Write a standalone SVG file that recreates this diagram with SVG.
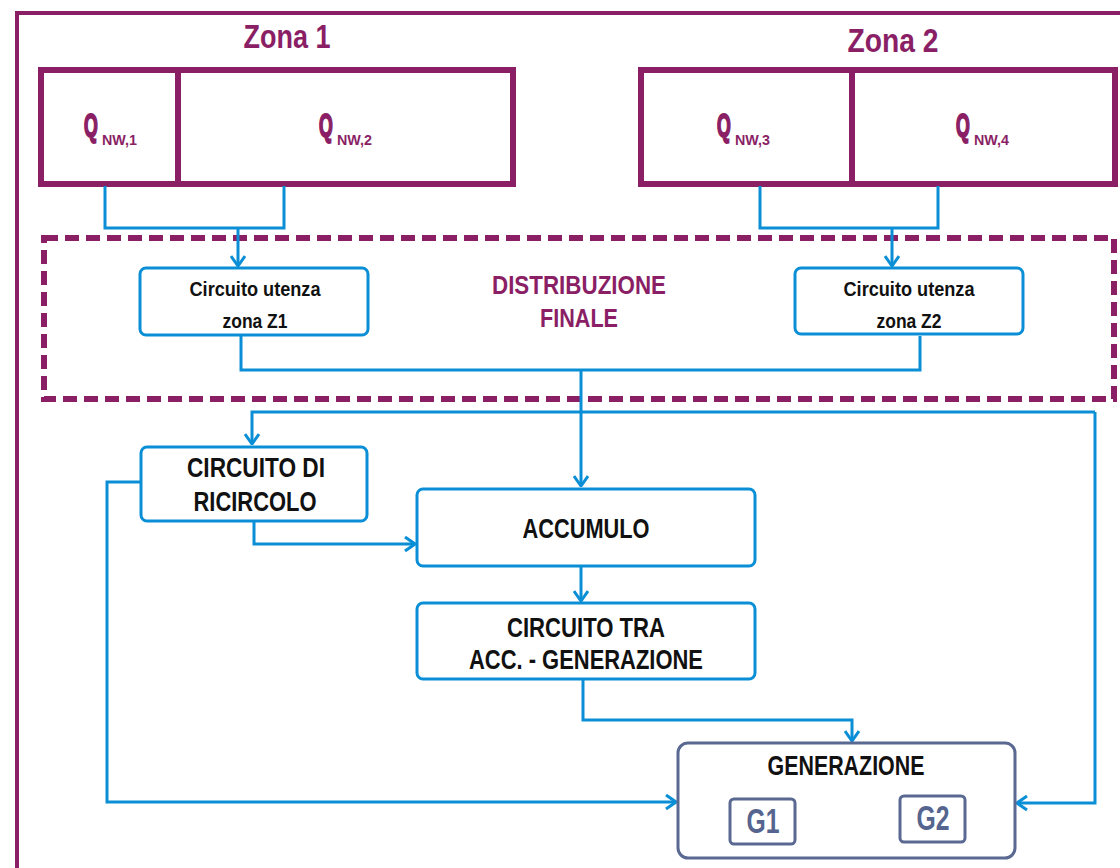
<svg xmlns="http://www.w3.org/2000/svg" width="1120" height="868" viewBox="0 0 1120 868">
<defs>
<style>
.t{font-family:"Liberation Sans Narrow","Liberation Sans",Arial,sans-serif;font-weight:bold;text-anchor:middle}
.s{font-family:"Liberation Sans Narrow","Liberation Sans",Arial,sans-serif;font-weight:bold;fill:#8a1f66}
.q{font-size:31px;stroke:#8a1f66;stroke-width:2}
.sub{font-size:15px}
.pu{fill:#8a1f66}
.bk{fill:#111}
.sl{fill:#56658f}
.zone{fill:none;stroke:#8a1f66;stroke-width:6}
.node{fill:#fff;stroke:#0a8fd6;stroke-width:3}
.gen{fill:#fff;stroke:#5a6992;stroke-width:3}
.c{fill:none;stroke:#0a8fd6;stroke-width:3;stroke-linejoin:miter}
.ae{marker-end:url(#ar)}
</style>
<marker id="ar" viewBox="0 0 12 16" refX="11" refY="8" markerWidth="12" markerHeight="16" markerUnits="userSpaceOnUse" orient="auto-start-reverse">
<path d="M1,1 L11,8 L1,15" fill="none" stroke="#0a8fd6" stroke-width="3"/>
</marker>
</defs>
<rect width="1120" height="868" fill="#fff"/>
<rect id="frame" x="17" y="13" width="1120" height="880" fill="none" stroke="#8a1f66" stroke-width="4"/>

<g id="zona1">
<text class="t pu" x="287" y="48" font-size="34" textLength="87" lengthAdjust="spacingAndGlyphs">Zona 1</text>
<rect class="zone" x="41" y="70" width="472" height="114"/>
<line x1="178" y1="70" x2="178" y2="184" stroke="#8a1f66" stroke-width="6"/>
<text class="s q" transform="translate(84,136) scale(0.57,1)">Q</text>
<text class="s sub" x="102" y="145" textLength="35" lengthAdjust="spacingAndGlyphs">NW,1</text>
<text class="s q" transform="translate(319,136) scale(0.57,1)">Q</text>
<text class="s sub" x="337" y="145" textLength="35" lengthAdjust="spacingAndGlyphs">NW,2</text>
</g>

<g id="zona2">
<text class="t pu" x="893" y="52" font-size="34" textLength="91" lengthAdjust="spacingAndGlyphs">Zona 2</text>
<rect class="zone" x="641" y="70" width="474" height="114"/>
<line x1="852" y1="70" x2="852" y2="184" stroke="#8a1f66" stroke-width="6"/>
<text class="s q" transform="translate(717,136) scale(0.57,1)">Q</text>
<text class="s sub" x="735" y="145" textLength="35" lengthAdjust="spacingAndGlyphs">NW,3</text>
<text class="s q" transform="translate(956,136) scale(0.57,1)">Q</text>
<text class="s sub" x="974" y="145" textLength="35" lengthAdjust="spacingAndGlyphs">NW,4</text>
</g>

<g id="distribuzione">
<rect x="44" y="238" width="1070" height="161" fill="none" stroke="#8a1f66" stroke-width="6" stroke-dasharray="14,7"/>
<text class="t pu" x="579" y="294" font-size="25" textLength="174" lengthAdjust="spacingAndGlyphs">DISTRIBUZIONE</text>
<text class="t pu" x="579" y="327" font-size="25" textLength="78" lengthAdjust="spacingAndGlyphs">FINALE</text>
</g>

<g id="connectors">
<path class="c" d="M105,186 V228 H284 V186"/>
<path class="c ae" d="M238,228 V266"/>
<path class="c" d="M760,186 V228 H938 V186"/>
<path class="c ae" d="M892,228 V266"/>
<path class="c" d="M241,336 V370 H920 V336"/>
<path class="c ae" d="M581,370 V486"/>
<path class="c ae" d="M1095,412 H252 V444"/>
<path class="c ae" d="M1095,412 V803 H1017"/>
<path class="c ae" d="M140,482 H107 V802 H676"/>
<path class="c ae" d="M254,522 V544 H415"/>
<path class="c ae" d="M581,567 V601"/>
<path class="c ae" d="M583,680 V720 H852 V741"/>
</g>

<g id="utenza1">
<rect class="node" x="140" y="268" width="228" height="67" rx="6"/>
<text class="t bk" x="255" y="296" font-size="20" textLength="131" lengthAdjust="spacingAndGlyphs">Circuito utenza</text>
<text class="t bk" x="255" y="328" font-size="20" textLength="65" lengthAdjust="spacingAndGlyphs">zona Z1</text>
</g>

<g id="utenza2">
<rect class="node" x="795" y="268" width="228" height="66" rx="6"/>
<text class="t bk" x="909" y="296" font-size="20" textLength="131" lengthAdjust="spacingAndGlyphs">Circuito utenza</text>
<text class="t bk" x="909" y="328" font-size="20" textLength="65" lengthAdjust="spacingAndGlyphs">zona Z2</text>
</g>

<g id="ricircolo">
<rect class="node" x="141" y="447" width="226" height="74" rx="6"/>
<text class="t bk" x="256" y="477" font-size="27" textLength="138" lengthAdjust="spacingAndGlyphs">CIRCUITO DI</text>
<text class="t bk" x="255" y="511" font-size="27" textLength="123" lengthAdjust="spacingAndGlyphs">RICIRCOLO</text>
</g>

<g id="accumulo">
<rect class="node" x="417" y="489" width="338" height="77" rx="6"/>
<text class="t bk" x="586" y="538" font-size="27" textLength="127" lengthAdjust="spacingAndGlyphs">ACCUMULO</text>
</g>

<g id="circuito-tra">
<rect class="node" x="417" y="603" width="338" height="76" rx="6"/>
<text class="t bk" x="586" y="637" font-size="27" textLength="158" lengthAdjust="spacingAndGlyphs">CIRCUITO TRA</text>
<text class="t bk" x="586" y="669" font-size="27" textLength="234" lengthAdjust="spacingAndGlyphs">ACC. - GENERAZIONE</text>
</g>

<g id="generazione">
<rect class="gen" x="678" y="743" width="337" height="115" rx="10"/>
<text class="t bk" x="846" y="775" font-size="27" textLength="157" lengthAdjust="spacingAndGlyphs">GENERAZIONE</text>
<rect class="gen" x="730" y="799" width="65" height="45" rx="4"/>
<text class="t sl" x="763" y="833" font-size="35" textLength="33" lengthAdjust="spacingAndGlyphs">G1</text>
<rect class="gen" x="900" y="796" width="65" height="46" rx="4"/>
<text class="t sl" x="933" y="830" font-size="35" textLength="33" lengthAdjust="spacingAndGlyphs">G2</text>
</g>
</svg>
